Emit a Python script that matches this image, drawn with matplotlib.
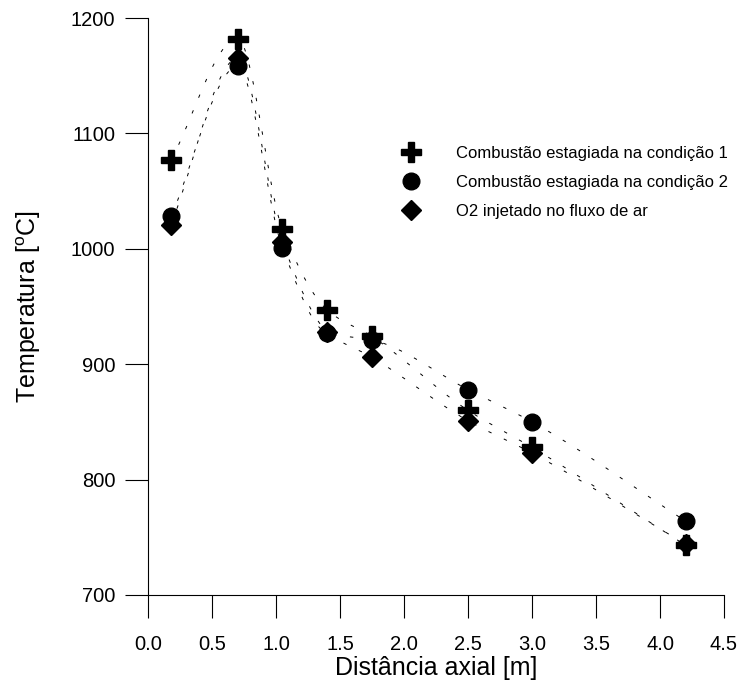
"""
Perfil axial de temperatura - tres condicoes de combustao
"""

import numpy as np
import matplotlib
matplotlib.use('Agg')
import matplotlib.pyplot as plt
from matplotlib.lines import Line2D

plt.rcParams['font.family'] = ['Liberation Sans', 'DejaVu Sans']
plt.rcParams['mathtext.fontset'] = 'custom'
plt.rcParams['mathtext.rm'] = 'Liberation Sans'
plt.rcParams['mathtext.it'] = 'Liberation Sans'

# data
distancia = [0.18, 0.70, 1.05, 1.40, 1.75, 2.50, 3.00, 4.20]
temp_cond1 = [1077, 1182, 1017, 947, 924, 860, 828, 743]
temp_cond2 = [1028, 1158, 1001, 927, 921, 878, 850, 764]
temp_o2 = [1021, 1165, 1006, 928, 906, 851, 823, 744]

labels = ['Combustão estagiada na condição 1',
          'Combustão estagiada na condição 2',
          'O2 injetado no fluxo de ar']
markers = ['P', 'o', 'D']
sizes = [14, 12, 10]


def pchip_curve(x, y, n=400):
    """Shape-preserving cubic (Fritsch-Carlson) through the points, for the dotted curves"""
    x = np.asarray(x, float)
    y = np.asarray(y, float)
    h = np.diff(x)
    delta = np.diff(y) / h
    k = len(x)
    d = np.zeros(k)
    for i in range(1, k - 1):
        if delta[i - 1] * delta[i] > 0:
            w1 = 2 * h[i] + h[i - 1]
            w2 = h[i] + 2 * h[i - 1]
            d[i] = (w1 + w2) / (w1 / delta[i - 1] + w2 / delta[i])
    d[0] = delta[0]
    d[-1] = delta[-1]
    xs = np.linspace(x[0], x[-1], n)
    idx = np.clip(np.searchsorted(x, xs) - 1, 0, k - 2)
    t = (xs - x[idx]) / h[idx]
    h00 = 2 * t**3 - 3 * t**2 + 1
    h10 = t**3 - 2 * t**2 + t
    h01 = -2 * t**3 + 3 * t**2
    h11 = t**3 - t**2
    ys = h00 * y[idx] + h10 * h[idx] * d[idx] + h01 * y[idx + 1] + h11 * h[idx] * d[idx + 1]
    return xs, ys


fig = plt.figure(figsize=(7.39, 6.82), dpi=100)
ax = fig.add_axes([0.2003, 0.1276, 0.7794, 0.846])

handles = []
for temps, mk, ms, lab in zip([temp_cond1, temp_cond2, temp_o2], markers, sizes, labels):
    xs, ys = pchip_curve(distancia, temps)
    ax.plot(xs, ys, color='black', lw=0.7, ls=(0, (3.5, 14)))
    ax.plot(distancia, temps, ls='none', marker=mk, ms=ms, color='black', zorder=3)
    handles.append(Line2D([], [], ls='none', marker=mk, ms=ms, color='black', label=lab))

ax.set_xlim(0, 4.5)
ax.set_ylim(700, 1200)
ax.set_xticks(np.arange(0, 4.51, 0.5))
ax.set_yticks([700, 800, 900, 1000, 1100, 1200])
ax.xaxis.set_major_formatter(matplotlib.ticker.FormatStrFormatter('%.1f'))

for s in ['top', 'right']:
    ax.spines[s].set_visible(False)
for s in ['left', 'bottom']:
    ax.spines[s].set_linewidth(0.8)
ax.tick_params(direction='out', length=16.5, width=0.8, labelsize=14.5)
ax.tick_params(axis='x', pad=12)
ax.tick_params(axis='y', pad=7)

ax.set_xlabel('Distância axial [m]', fontsize=18, labelpad=2)
ax.set_ylabel('Temperatura [$^{o}$C]', fontsize=18, labelpad=20)

ax.legend(handles=handles, loc='upper left', bbox_to_anchor=(0.43, 0.79),
          frameon=False, fontsize=12, handlelength=1.0, handletextpad=2.2,
          labelspacing=0.85, borderaxespad=0)

plt.savefig('out.png', dpi=100)
